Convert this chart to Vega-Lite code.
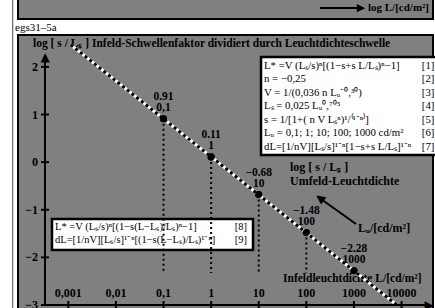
{
  "$schema": "https://vega.github.io/schema/vega-lite/v6.json",
  "width": 387,
  "height": 250,
  "autosize": "none",
  "padding": {"left": 45, "top": 55, "right": 3, "bottom": 3},
  "background": "#808080",
  "config": {"view": {"stroke": null}, "font": "Liberation Serif"},
  "datasets": {
    "points": [
      {"L": "0,1", "lgL": -1, "v": 0.91, "lab": "0.91"},
      {"L": "1", "lgL": 0, "v": 0.11, "lab": "0.11"},
      {"L": "10", "lgL": 1, "v": -0.68, "lab": "−0.68"},
      {"L": "100", "lgL": 2, "v": -1.48, "lab": "−1.48"},
      {"L": "1000", "lgL": 3, "v": -2.28, "lab": "−2.28"}
    ],
    "curve": [{"lgL": -2.95, "v": 2.465}, {"lgL": 3.9, "v": -3.0}],
    "xticks": [
      {"t": -3, "lab": "0,001"}, {"t": -2, "lab": "0,01"}, {"t": -1, "lab": "0,1"}, {"t": 0, "lab": "1"},
      {"t": 1, "lab": "10"}, {"t": 2, "lab": "100"}, {"t": 3, "lab": "1000"}, {"t": 4, "lab": "10000"}
    ],
    "yticks": [
      {"t": -3, "lab": "−3"}, {"t": -2, "lab": "−2"}, {"t": -1, "lab": "−1"},
      {"t": 0, "lab": "0"}, {"t": 1, "lab": "1"}, {"t": 2, "lab": "2"}
    ]
  },
  "layer": [
    {
      "data": {"name": "points"},
      "mark": {"type": "point", "shape": "circle", "filled": true, "color": "black", "size": 50, "opacity": 1},
      "encoding": {
        "x": {"field": "lgL", "type": "quantitative", "scale": {"domain": [-3.49, 4.64], "nice": false, "zero": false}, "axis": null},
        "y": {"field": "v", "type": "quantitative", "scale": {"domain": [-3, 2.25], "nice": false, "zero": false}, "axis": null}
      }
    },
    {
      "data": {"values": [{}]},
      "mark": {"type": "rect", "fill": "white", "strokeWidth": 0},
      "encoding": {
        "x": {"datum": -5.2, "type": "quantitative", "axis": null},
        "x2": {"datum": -4.057},
        "y": {"datum": 3.6, "type": "quantitative", "axis": null},
        "y2": {"datum": -3.3}
      }
    },
    {
      "data": {"values": [{}]},
      "mark": {"type": "rect", "fill": "white", "strokeWidth": 0},
      "encoding": {
        "x": {"datum": -4.057, "type": "quantitative", "axis": null},
        "x2": {"datum": 5.0},
        "y": {"datum": 3.006, "type": "quantitative", "axis": null},
        "y2": {"datum": 2.67}
      }
    },
    {
      "data": {"values": [{}]},
      "mark": {"type": "rect", "fill": "white", "strokeWidth": 0},
      "encoding": {
        "x": {"datum": 4.661, "type": "quantitative", "axis": null},
        "x2": {"datum": 5.0},
        "y": {"datum": 3.6, "type": "quantitative", "axis": null},
        "y2": {"datum": -3.3}
      }
    },
    {
      "data": {"values": [{}]},
      "mark": {"type": "rect", "fillOpacity": 0, "stroke": "black", "strokeWidth": 2},
      "encoding": {
        "x": {"datum": -4.057, "type": "quantitative", "axis": null},
        "x2": {"datum": 4.661},
        "y": {"datum": 3.468, "type": "quantitative", "axis": null},
        "y2": {"datum": 3.006}
      }
    },
    {
      "data": {"values": [{}]},
      "mark": {"type": "rect", "fillOpacity": 0, "stroke": "black", "strokeWidth": 2},
      "encoding": {
        "x": {"datum": -4.057, "type": "quantitative", "axis": null},
        "x2": {"datum": 4.661},
        "y": {"datum": 2.67, "type": "quantitative", "axis": null},
        "y2": {"datum": -3.147}
      }
    },
    {
      "data": {"values": [{}]},
      "mark": {"type": "rule", "color": "#444444", "strokeWidth": 1},
      "encoding": {
        "x": {"datum": -4.168, "type": "quantitative", "axis": null},
        "y": {"datum": 3.405, "type": "quantitative", "axis": null},
        "y2": {"datum": -3.063}
      }
    },
    {
      "data": {"values": [{}]},
      "mark": {"type": "text", "align": "left", "baseline": "middle", "fontSize": 11, "color": "black", "font": "Liberation Serif"},
      "encoding": {
        "x": {"datum": -4.12, "type": "quantitative", "axis": null},
        "y": {"datum": 2.81, "type": "quantitative", "axis": null},
        "text": {"value": "egs31–5a"}
      }
    },
    {
      "data": {"values": [{}]},
      "mark": {"type": "rule", "color": "black", "strokeWidth": 2},
      "encoding": {
        "x": {"datum": 2.287, "type": "quantitative", "axis": null},
        "x2": {"datum": 3.12},
        "y": {"datum": 3.237, "type": "quantitative", "axis": null}
      }
    },
    {
      "data": {"values": [{}]},
      "mark": {"type": "text", "align": "center", "baseline": "middle", "fontSize": 11, "color": "black", "font": "DejaVu Sans"},
      "encoding": {
        "x": {"datum": 3.15, "type": "quantitative", "axis": null},
        "y": {"datum": 3.237, "type": "quantitative", "axis": null},
        "text": {"value": "▶"}
      }
    },
    {
      "data": {"values": [{}]},
      "mark": {"type": "text", "align": "left", "baseline": "middle", "fontSize": 11, "fontWeight": "bold", "color": "black", "font": "Liberation Serif"},
      "encoding": {
        "x": {"datum": 3.295, "type": "quantitative", "axis": null},
        "y": {"datum": 3.237, "type": "quantitative", "axis": null},
        "text": {"value": "log L/[cd/m²]"}
      }
    },
    {
      "data": {"values": [{}]},
      "mark": {"type": "text", "align": "left", "baseline": "middle", "fontSize": 11.5, "fontWeight": "bold", "color": "black", "font": "Liberation Serif"},
      "encoding": {
        "x": {"datum": -3.742, "type": "quantitative", "axis": null},
        "y": {"datum": 2.481, "type": "quantitative", "axis": null},
        "text": {"value": "log [ s / Lₛ ]  Infeld-Schwellenfaktor dividiert durch Leuchtdichteschwelle"}
      }
    },
    {
      "data": {"values": [{}]},
      "mark": {"type": "rect", "fill": "white", "stroke": "black", "strokeWidth": 2.5},
      "encoding": {
        "x": {"datum": 1.048, "type": "quantitative", "axis": null},
        "x2": {"datum": 4.913},
        "y": {"datum": 2.208, "type": "quantitative", "axis": null},
        "y2": {"datum": 0.15}
      }
    },
    {
      "data": {"values": [{}]},
      "mark": {"type": "text", "align": "left", "baseline": "top", "fontSize": 10.8, "lineHeight": 13.5, "color": "black", "font": "Liberation Serif"},
      "encoding": {
        "x": {"datum": 1.111, "type": "quantitative", "axis": null},
        "y": {"datum": 2.155, "type": "quantitative", "axis": null},
        "text": {"value": ["L* =V (Lₛ/s)ⁿ[(1−s+s L/Lₛ)ⁿ−1]", "n = −0,25", "V = 1/(0,036 n Lᵤ⁻⁰,³⁰)", "Lₛ = 0,025 Lᵤ⁰,⁷⁰⁵", "s = 1/[1+( n V Lₛⁿ)¹/⁽¹⁻ⁿ⁾]", "Lᵤ = 0,1; 1; 10; 100; 1000 cd/m²", "dL=[1/nV][Lₛ/s]¹⁻ⁿ[1−s+s L/Lₛ]¹⁻ⁿ"]}
      }
    },
    {
      "data": {"values": [{}]},
      "mark": {"type": "text", "align": "right", "baseline": "top", "fontSize": 10.8, "lineHeight": 13.5, "color": "black", "font": "Liberation Serif"},
      "encoding": {
        "x": {"datum": 4.69, "type": "quantitative", "axis": null},
        "y": {"datum": 2.155, "type": "quantitative", "axis": null},
        "text": {"value": ["[1]", "[2]", "[3]", "[4]", "[5]", "[6]", "[7]"]}
      }
    },
    {
      "data": {"values": [{}]},
      "mark": {"type": "rect", "fill": "white", "stroke": "black", "strokeWidth": 2.5},
      "encoding": {
        "x": {"datum": -3.343, "type": "quantitative", "axis": null},
        "x2": {"datum": 0.88},
        "y": {"datum": -1.194, "type": "quantitative", "axis": null},
        "y2": {"datum": -1.845}
      }
    },
    {
      "data": {"values": [{}]},
      "mark": {"type": "text", "align": "left", "baseline": "top", "fontSize": 10.5, "lineHeight": 13, "color": "black", "font": "Liberation Serif"},
      "encoding": {
        "x": {"datum": -3.28, "type": "quantitative", "axis": null},
        "y": {"datum": -1.257, "type": "quantitative", "axis": null},
        "text": {"value": ["L* =V (Lₛ/s)ⁿ[(1−s(L−Lₛ)/Lₛ)ⁿ−1]", "dL=[1/nV][Lₛ/s]¹⁻ⁿ[(1−s(L−Lₛ)/Lₛ)¹⁻ⁿ]"]}
      }
    },
    {
      "data": {"values": [{}]},
      "mark": {"type": "text", "align": "right", "baseline": "top", "fontSize": 10.5, "lineHeight": 13, "color": "black", "font": "Liberation Serif"},
      "encoding": {
        "x": {"datum": 0.754, "type": "quantitative", "axis": null},
        "y": {"datum": -1.257, "type": "quantitative", "axis": null},
        "text": {"value": ["[8]", "[9]"]}
      }
    },
    {
      "data": {"values": [{}]},
      "mark": {"type": "text", "align": "left", "baseline": "top", "fontSize": 12, "lineHeight": 14, "fontWeight": "bold", "color": "black", "font": "Liberation Serif"},
      "encoding": {
        "x": {"datum": 1.657, "type": "quantitative", "axis": null},
        "y": {"datum": 0.003, "type": "quantitative", "axis": null},
        "text": {"value": ["log [ s / Lₛ ]", "Umfeld-Leuchtdichte"]}
      }
    },
    {
      "data": {"values": [{}]},
      "mark": {"type": "rule", "color": "black", "strokeWidth": 2},
      "encoding": {
        "x": {"datum": 3.044, "type": "quantitative", "axis": null},
        "x2": {"datum": 2.3},
        "y": {"datum": -1.299, "type": "quantitative", "axis": null},
        "y2": {"datum": -0.77}
      }
    },
    {
      "data": {"values": [{}]},
      "mark": {"type": "text", "align": "center", "baseline": "middle", "fontSize": 12, "angle": 306, "color": "black", "font": "DejaVu Sans"},
      "encoding": {
        "x": {"datum": 2.27, "type": "quantitative", "axis": null},
        "y": {"datum": -0.745, "type": "quantitative", "axis": null},
        "text": {"value": "▲"}
      }
    },
    {
      "data": {"values": [{}]},
      "mark": {"type": "text", "align": "left", "baseline": "middle", "fontSize": 12, "fontWeight": "bold", "color": "black", "font": "Liberation Serif"},
      "encoding": {
        "x": {"datum": 3.085, "type": "quantitative", "axis": null},
        "y": {"datum": -1.383, "type": "quantitative", "axis": null},
        "text": {"value": "Lᵤ/[cd/m²]"}
      }
    },
    {
      "data": {"values": [{}]},
      "mark": {"type": "text", "align": "left", "baseline": "middle", "fontSize": 11.5, "fontWeight": "bold", "color": "black", "font": "Liberation Serif"},
      "encoding": {
        "x": {"datum": 1.51, "type": "quantitative", "axis": null},
        "y": {"datum": -2.45, "type": "quantitative", "axis": null},
        "text": {"value": "Infeldleuchtdichte L/[cd/m²]"}
      }
    },
    {
      "data": {"name": "points"},
      "transform": [{"filter": "datum.lgL < 3"}],
      "mark": {"type": "rule", "color": "black", "strokeWidth": 2, "strokeDash": [2, 3]},
      "encoding": {
        "x": {"field": "lgL", "type": "quantitative", "axis": null},
        "y": {"field": "v", "type": "quantitative", "axis": null},
        "y2": {"datum": -2.328}
      }
    },
    {
      "data": {"name": "curve"},
      "mark": {"type": "line", "color": "white", "strokeWidth": 3},
      "encoding": {
        "x": {"field": "lgL", "type": "quantitative", "axis": null},
        "y": {"field": "v", "type": "quantitative", "axis": null}
      }
    },
    {
      "data": {"name": "curve"},
      "mark": {"type": "line", "color": "black", "strokeWidth": 3, "strokeDash": [3, 3]},
      "encoding": {
        "x": {"field": "lgL", "type": "quantitative", "axis": null},
        "y": {"field": "v", "type": "quantitative", "axis": null}
      }
    },
    {
      "data": {"name": "points"},
      "mark": {"type": "point", "shape": "circle", "filled": true, "color": "black", "size": 50, "opacity": 1},
      "encoding": {
        "x": {"field": "lgL", "type": "quantitative", "axis": null},
        "y": {"field": "v", "type": "quantitative", "axis": null}
      }
    },
    {
      "data": {"name": "points"},
      "mark": {"type": "text", "align": "center", "baseline": "middle", "dy": -22, "fontSize": 11.5, "fontWeight": "bold", "color": "black", "font": "Liberation Serif"},
      "encoding": {
        "x": {"field": "lgL", "type": "quantitative", "axis": null},
        "y": {"field": "v", "type": "quantitative", "axis": null},
        "text": {"field": "lab"}
      }
    },
    {
      "data": {"name": "points"},
      "mark": {"type": "text", "align": "center", "baseline": "middle", "dy": -11, "fontSize": 11.5, "fontWeight": "bold", "color": "black", "font": "Liberation Serif"},
      "encoding": {
        "x": {"field": "lgL", "type": "quantitative", "axis": null},
        "y": {"field": "v", "type": "quantitative", "axis": null},
        "text": {"field": "L"}
      }
    },
    {
      "data": {"values": [{}]},
      "mark": {"type": "rule", "color": "black", "strokeWidth": 2},
      "encoding": {
        "x": {"datum": -3.49, "type": "quantitative", "axis": null},
        "y": {"datum": -3, "type": "quantitative", "axis": null},
        "y2": {"datum": 2.2}
      }
    },
    {
      "data": {"values": [{}]},
      "mark": {"type": "rule", "color": "black", "strokeWidth": 2},
      "encoding": {
        "x": {"datum": -3.49, "type": "quantitative", "axis": null},
        "x2": {"datum": 4.58},
        "y": {"datum": -3, "type": "quantitative", "axis": null}
      }
    },
    {
      "data": {"name": "xticks"},
      "mark": {"type": "tick", "orient": "vertical", "color": "black", "size": 8, "thickness": 2, "opacity": 1},
      "encoding": {
        "x": {"field": "t", "type": "quantitative", "axis": null},
        "y": {"datum": -3, "type": "quantitative", "axis": null}
      }
    },
    {
      "data": {"name": "xticks"},
      "mark": {"type": "text", "align": "center", "baseline": "middle", "dy": -12, "fontSize": 12, "fontWeight": "bold", "color": "black", "font": "Liberation Serif"},
      "encoding": {
        "x": {"field": "t", "type": "quantitative", "axis": null},
        "y": {"datum": -3, "type": "quantitative", "axis": null},
        "text": {"field": "lab"}
      }
    },
    {
      "data": {"name": "yticks"},
      "mark": {"type": "tick", "orient": "horizontal", "color": "black", "size": 8, "thickness": 2, "opacity": 1},
      "encoding": {
        "y": {"field": "t", "type": "quantitative", "axis": null},
        "x": {"datum": -3.49, "type": "quantitative", "axis": null}
      }
    },
    {
      "data": {"name": "yticks"},
      "mark": {"type": "text", "align": "right", "baseline": "middle", "dx": -7, "fontSize": 12, "fontWeight": "bold", "color": "black", "font": "Liberation Serif"},
      "encoding": {
        "y": {"field": "t", "type": "quantitative", "axis": null},
        "x": {"datum": -3.49, "type": "quantitative", "axis": null},
        "text": {"field": "lab"}
      }
    },
    {
      "data": {"values": [{}]},
      "mark": {"type": "text", "align": "center", "baseline": "middle", "fontSize": 12, "color": "black", "font": "DejaVu Sans"},
      "encoding": {
        "x": {"datum": -3.49, "type": "quantitative", "axis": null},
        "y": {"datum": 2.2, "type": "quantitative", "axis": null},
        "text": {"value": "▲"}
      }
    },
    {
      "data": {"values": [{}]},
      "mark": {"type": "text", "align": "center", "baseline": "middle", "fontSize": 12, "color": "black", "font": "DejaVu Sans"},
      "encoding": {
        "x": {"datum": 4.58, "type": "quantitative", "axis": null},
        "y": {"datum": -3, "type": "quantitative", "axis": null},
        "text": {"value": "▶"}
      }
    }
  ]
}
